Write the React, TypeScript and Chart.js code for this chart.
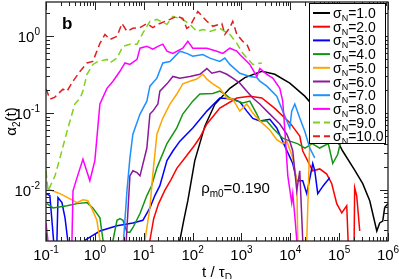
import React, { useEffect, useRef } from "react";
import { Chart, registerables } from "chart.js";

Chart.register(...registerables);

// ---------- data ----------
const X_MIN = 0.1;
const X_MAX = 1e6;
const Y_MIN = 0.00215;
const Y_MAX = 2.8;

const X_TICK_EXP = [-1, 0, 1, 2, 3, 4, 5, 6];
const Y_TICK_EXP = [-2, -1, 0];

const SIGMA_LABELS = ["1.0", "2.0", "3.0", "4.0", "5.0", "6.0", "7.0", "8.0", "9.0", "10.0"];
const SERIES_COLORS = [
  "#000000", "#ff0000", "#0000ff", "#149414", "#ffa500",
  "#8b1a9b", "#1e90ff", "#ff00ff", "#80d020", "#e02020",
];
const SERIES_DASHED = [false, false, false, false, false, false, false, false, true, true];

const ANNOTATION = "=0.190";

type P = [number, number];

const s1: P[] = [
  [45, 0.001], [55, 0.0022], [66, 0.004], [80, 0.0072], [111, 0.024], [179, 0.068],
  [286, 0.13], [579, 0.21], [1175, 0.29], [2615, 0.35], [4820, 0.32], [9770, 0.245],
  [19800, 0.166], [36500, 0.106], [64300, 0.068], [1.18e5, 0.032], [2.08e5, 0.018],
  [3.04e5, 0.012], [4.23e5, 0.0072], [5.9e5, 0.0029], [6.76e5, 0.0037], [7.8e5, 0.0039],
  [8.57e5, 0.0059], [1e6, 0.0066],
];
const s2: P[] = [
  [12, 0.001], [13.4, 0.0022], [16, 0.0042], [20, 0.0065], [27, 0.0098], [36, 0.0135],
  [47.6, 0.019], [76, 0.028], [110, 0.038], [141, 0.048], [196, 0.072], [280, 0.095],
  [361, 0.116], [805, 0.157], [1486, 0.166],
  [2615, 0.157], [4820, 0.115], [9770, 0.075], [15630, 0.05], [18000, 0.032],
  [28800, 0.0177], [40100, 0.0187], [55800, 0.016], [70600, 0.012], [89300, 0.0066],
  [1.13e5, 0.005], [1.43e5, 0.0062], [1.6e5, 0.001], [2.0e5, 0.001], [2.08e5, 0.0106],
  [2.29e5, 0.0083], [2.64e5, 0.0029],
];
const s3: P[] = [
  [0.1, 0.0089], [0.12, 0.0084], [0.15, 0.0015], [0.165, 0.0015], [0.176, 0.0079],
  [0.212, 0.0068], [0.245, 0.0043], [0.3, 0.0015], [0.6, 0.0015], [0.63, 0.0022],
  [1.27, 0.0029], [2.84, 0.0034], [6.0, 0.0037], [9.6, 0.004], [13.4, 0.0058],
  [16.9, 0.0084], [21.4, 0.0113], [29.9, 0.024], [39.5, 0.032], [55, 0.043], [101, 0.064],
  [196, 0.106], [361, 0.157], [665, 0.152], [927, 0.14], [1290, 0.106], [1710, 0.085],
  [2380, 0.079], [3810, 0.083], [5290, 0.064], [7730, 0.037], [11240, 0.022],
  [13580, 0.0131], [17990, 0.0131], [21750, 0.0089], [28800, 0.022], [31700, 0.0177],
  [36500, 0.0089], [44000, 0.0106], [50800, 0.012], [64300, 0.0143],
];
const s4: P[] = [
  [0.105, 0.0066], [0.139, 0.0058], [0.27, 0.0062], [0.43, 0.0066], [0.69, 0.0068],
  [0.91, 0.0058], [1.27, 0.0043], [1.47, 0.0022], [1.5, 0.001], [2.2, 0.001],
  [2.35, 0.0022], [2.84, 0.004], [3.26, 0.0042], [3.76, 0.004], [4.54, 0.0028],
  [5.22, 0.0028], [6.0, 0.0032], [8.4, 0.0049], [11.6, 0.0084], [14.5, 0.0113],
  [18.6, 0.0193], [29.9, 0.04], [47.6, 0.064], [63, 0.097], [101, 0.143], [141, 0.177],
  [260, 0.18], [361, 0.193], [458, 0.177], [579, 0.157], [805, 0.143], [1065, 0.135],
  [1486, 0.143], [2065, 0.097], [2380, 0.079], [3310, 0.079], [4380, 0.064],
  [7000, 0.047], [9770, 0.043], [14000, 0.04], [20000, 0.035], [28000, 0.04],
  [40000, 0.035], [60000, 0.04], [74000, 0.022], [93600, 0.029], [1.1e5, 0.045],
];
const s5: P[] = [
  [0.105, 0.0103], [0.193, 0.0089], [0.31, 0.0076], [0.43, 0.0068], [0.57, 0.0074],
  [0.72, 0.0072], [0.91, 0.0053], [1.1, 0.004], [1.27, 0.0022], [1.3, 0.001], [9, 0.001],
  [10.6, 0.0022], [13.4, 0.0058], [15.4, 0.0161], [18.6, 0.053], [24.6, 0.086],
  [34.4, 0.131], [47.6, 0.177], [63, 0.24], [88, 0.26], [122, 0.277], [162, 0.32],
  [196, 0.277], [260, 0.24], [361, 0.21], [503, 0.157], [665, 0.152], [927, 0.106],
  [1290, 0.131], [1710, 0.1], [2380, 0.079], [3810, 0.06], [5290, 0.045], [7000, 0.04],
  [8490, 0.043], [11240, 0.026], [13580, 0.0131], [14230, 0.0022], [14500, 0.001],
  [20000, 0.001], [21750, 0.0022], [25060, 0.043], [28800, 0.05],
];
const s6: P[] = [
  [4.3, 0.0017], [5.22, 0.0152], [6.0, 0.0177], [7.3, 0.0167], [8.4, 0.0152],
  [11.6, 0.035], [13.4, 0.097], [15.4, 0.106], [19.5, 0.131], [21.4, 0.193],
  [29.9, 0.24], [39.5, 0.3], [55, 0.285], [88, 0.3], [141, 0.32], [196, 0.38],
  [248, 0.33], [361, 0.35], [503, 0.32], [665, 0.285], [927, 0.245], [1290, 0.193],
  [1710, 0.157], [2380, 0.131], [3310, 0.106], [6100, 0.072], [8490, 0.053],
  [9770, 0.043], [11240, 0.032], [13580, 0.0097], [15630, 0.0177], [17990, 0.0022],
  [18500, 0.001],
];
const s7: P[] = [
  [3.76, 0.0017], [4.54, 0.0097], [5.22, 0.026], [6.0, 0.053], [8.4, 0.097],
  [11.6, 0.143], [13.4, 0.224], [18.6, 0.285], [24.6, 0.45], [34.4, 0.47], [55, 0.64],
  [76, 0.6], [101, 0.55], [162, 0.58], [226, 0.52], [361, 0.47], [458, 0.52],
  [579, 0.43], [927, 0.33], [1486, 0.3], [2065, 0.29], [2380, 0.26], [3310, 0.224],
  [5290, 0.166], [7000, 0.106], [9770, 0.064], [10700, 0.106], [12360, 0.131],
  [15630, 0.086], [19800, 0.058], [25060, 0.035], [31700, 0.026],
];
const s8: P[] = [
  [0.1, 0.0037], [0.11, 0.0021], [0.12, 0.001], [0.33, 0.001], [0.34, 0.0022],
  [0.357, 0.0097], [0.43, 0.0143], [0.57, 0.025], [0.79, 0.0131], [1.0, 0.024],
  [1.27, 0.131], [1.77, 0.21], [2.35, 0.26], [3.26, 0.35], [4.13, 0.45], [5.22, 0.43],
  [7.3, 0.5], [8.4, 0.7], [11.6, 0.74], [15.4, 0.68], [19.5, 0.74], [24.6, 0.79],
  [29.9, 0.64], [39.5, 0.6], [63, 0.7], [80, 0.86], [101, 0.7], [196, 0.7], [314, 0.64],
  [416, 0.6], [579, 0.7], [805, 0.64], [927, 0.58], [1486, 0.43], [2065, 0.3],
  [2380, 0.38], [3310, 0.32], [4380, 0.285], [6100, 0.21], [7000, 0.143], [7730, 0.06],
  [8490, 0.024], [8900, 0.0152], [10700, 0.0068], [11240, 0.0089], [12360, 0.0046],
  [13580, 0.0022], [14000, 0.001],
];
const s9: P[] = [
  [0.1, 0.0177], [0.11, 0.0097], [0.153, 0.0152], [0.193, 0.026], [0.27, 0.058],
  [0.34, 0.097], [0.39, 0.131], [0.5, 0.157], [0.57, 0.193], [0.69, 0.32], [0.91, 0.43],
  [1.15, 0.47], [1.77, 0.5], [2.04, 0.45], [2.84, 0.52], [3.76, 0.74], [5.22, 0.79],
  [7.3, 0.79], [9.6, 1.1], [13.4, 1.57], [18.6, 1.66], [29.9, 1.43], [39.5, 1.82],
  [63, 1.66], [88, 1.43], [122, 1.16], [162, 1.23], [226, 1.16], [361, 1.27],
  [579, 1.06], [805, 0.81], [1065, 0.6], [1710, 0.43], [2615, 0.45],
];
const s10: P[] = [
  [0.1, 0.205], [0.121, 0.152], [0.15, 0.16], [0.222, 0.205], [0.27, 0.193],
  [0.357, 0.26], [0.5, 0.35], [0.69, 0.45], [0.91, 0.47], [1.27, 0.81], [1.61, 1.06],
  [2.04, 0.91], [2.84, 1.0], [3.59, 1.47], [4.54, 1.16], [6.0, 1.27], [8.4, 1.3],
  [11.6, 1.47], [15.4, 1.3], [21.4, 1.47], [34.4, 1.66], [47.6, 1.82], [63, 1.71],
  [76, 1.27], [88, 1.35], [128, 2.11], [196, 1.57], [260, 1.35], [397, 1.47],
  [458, 1.06], [579, 1.3], [665, 1.57], [805, 1.06], [1065, 0.86], [1290, 0.79],
  [1486, 0.64],
];

const SERIES = [s1, s2, s3, s4, s5, s6, s7, s8, s9, s10];

// ---------- drawing helpers ----------
const FONT = "'Liberation Sans', Arial, Helvetica, sans-serif";
const DASH = [7, 4];

function drawRich(
  ctx: CanvasRenderingContext2D,
  parts: { t: string; size: number; dy: number; bold?: boolean }[],
  x: number,
  y: number,
  align: "left" | "center" | "right"
) {
  let total = 0;
  const widths = parts.map((p) => {
    ctx.font = `${p.bold ? "bold " : ""}${p.size}px ${FONT}`;
    const w = ctx.measureText(p.t).width;
    total += w;
    return w;
  });
  let cx = align === "left" ? x : align === "center" ? x - total / 2 : x - total;
  parts.forEach((p, i) => {
    ctx.font = `${p.bold ? "bold " : ""}${p.size}px ${FONT}`;
    ctx.fillText(p.t, cx, y + p.dy);
    cx += widths[i];
  });
}

function expStr(e: number) {
  return e < 0 ? "-" + Math.abs(e) : String(e);
}

const decorPlugin = {
  id: "decor",
  afterDraw(chart: any) {
    const ctx: CanvasRenderingContext2D = chart.ctx;
    const a = chart.chartArea;
    const xs = chart.scales.x;
    const ys = chart.scales.y;
    ctx.save();
    ctx.strokeStyle = "#222";
    ctx.fillStyle = "#000";
    ctx.lineWidth = 1;
    ctx.setLineDash([]);

    // ticks on x (top and bottom, inward)
    ctx.beginPath();
    for (let d = -1; d <= 6; d++) {
      for (let k = 1; k <= 9; k++) {
        const v = k * Math.pow(10, d);
        if (v > X_MAX * 1.0001) continue;
        const px = Math.round(xs.getPixelForValue(v)) + 0.5;
        const len = k === 1 ? 8 : 4;
        ctx.moveTo(px, a.bottom);
        ctx.lineTo(px, a.bottom - len);
        ctx.moveTo(px, a.top);
        ctx.lineTo(px, a.top + len);
      }
    }
    for (let d = -3; d <= 0; d++) {
      for (let k = 1; k <= 9; k++) {
        const v = k * Math.pow(10, d);
        if (v < Y_MIN || v > Y_MAX) continue;
        const py = Math.round(ys.getPixelForValue(v)) + 0.5;
        const len = k === 1 ? 8 : 4;
        ctx.moveTo(a.left, py);
        ctx.lineTo(a.left + len, py);
        ctx.moveTo(a.right, py);
        ctx.lineTo(a.right - len, py);
      }
    }
    ctx.stroke();

    // frame
    ctx.lineWidth = 1.3;
    ctx.strokeRect(a.left, a.top, a.right - a.left, a.bottom - a.top);

    // tick labels
    ctx.textBaseline = "alphabetic";
    X_TICK_EXP.forEach((e) => {
      const px = xs.getPixelForValue(Math.pow(10, e));
      drawRich(
        ctx,
        [
          { t: "10", size: 15, dy: 0 },
          { t: expStr(e), size: 10, dy: -7 },
        ],
        px,
        a.bottom + 19,
        "center"
      );
    });
    Y_TICK_EXP.forEach((e) => {
      const py = ys.getPixelForValue(Math.pow(10, e));
      drawRich(
        ctx,
        [
          { t: "10", size: 15, dy: 0 },
          { t: expStr(e), size: 10, dy: -7 },
        ],
        a.left - 6,
        py + 6,
        "right"
      );
    });

    // axis titles
    drawRich(
      ctx,
      [
        { t: "t / \u03c4", size: 15, dy: 0 },
        { t: "D", size: 10, dy: 4 },
      ],
      (a.left + a.right) / 2,
      a.bottom + 36,
      "center"
    );
    ctx.save();
    ctx.translate(16, (a.top + a.bottom) / 2);
    ctx.rotate(-Math.PI / 2);
    drawRich(
      ctx,
      [
        { t: "\u03b1", size: 15, dy: 0 },
        { t: "2", size: 10, dy: 4 },
        { t: "(t)", size: 15, dy: 0 },
      ],
      0,
      0,
      "center"
    );
    ctx.restore();

    // panel label and annotation
    drawRich(ctx, [{ t: "b", size: 17, dy: 0, bold: true }], a.left + 16, a.top + 27, "left");
    drawRich(
      ctx,
      [
        { t: "\u03c1", size: 15, dy: 0 },
        { t: "m0", size: 10, dy: 4 },
        { t: ANNOTATION, size: 15, dy: 0 },
      ],
      xs.getPixelForValue(150),
      ys.getPixelForValue(0.009),
      "left"
    );

    // legend
    const lx = 309, ly = 3, lw = 76, lh = 140;
    ctx.fillStyle = "#fff";
    ctx.fillRect(lx, ly, lw, lh);
    ctx.strokeStyle = "#000";
    ctx.lineWidth = 1;
    ctx.strokeRect(lx + 0.5, ly + 0.5, lw, lh);
    SIGMA_LABELS.forEach((lab, i) => {
      const y = ly + 10 + i * 13.7;
      ctx.strokeStyle = SERIES_COLORS[i];
      ctx.lineWidth = 2;
      ctx.setLineDash(SERIES_DASHED[i] ? DASH : []);
      ctx.beginPath();
      ctx.moveTo(lx + 4, y);
      ctx.lineTo(lx + 21, y);
      ctx.stroke();
      ctx.setLineDash([]);
      ctx.fillStyle = "#000";
      drawRich(
        ctx,
        [
          { t: "\u03c3", size: 14, dy: 0 },
          { t: "N", size: 9, dy: 3 },
          { t: "=" + lab, size: 14, dy: 0 },
        ],
        lx + 24,
        y + 5,
        "left"
      );
    });
    ctx.restore();
  },
};

export default function App() {
  const ref = useRef<HTMLCanvasElement | null>(null);
  useEffect(() => {
    if (!ref.current) return;
    const datasets = SERIES.map((s, i) => ({
      label: "\u03c3N=" + SIGMA_LABELS[i],
      data: s.map(([x, y]) => ({ x, y })),
      borderColor: SERIES_COLORS[i],
      backgroundColor: SERIES_COLORS[i],
      borderWidth: 1.5,
      borderDash: SERIES_DASHED[i] ? DASH : [],
      pointRadius: 0,
      tension: 0,
      fill: false,
      order: 10 - i,
    }));
    const chart = new Chart(ref.current, {
      type: "line",
      data: { datasets },
      options: {
        animation: false,
        responsive: false,
        parsing: true,
        layout: { padding: { left: 46, right: 11, top: 2, bottom: 38 } },
        plugins: { legend: { display: false }, tooltip: { enabled: false } },
        scales: {
          x: { type: "logarithmic", min: X_MIN, max: X_MAX, display: false },
          y: { type: "logarithmic", min: Y_MIN, max: Y_MAX, display: false },
        },
      },
      plugins: [decorPlugin],
    } as any);
    return () => chart.destroy();
  }, []);
  return (
    <div style={{ position: "fixed", left: 0, top: 0, width: 399, height: 279, background: "#fff" }}>
      <canvas ref={ref} width={399} height={279} style={{ display: "block" }} />
    </div>
  );
}
